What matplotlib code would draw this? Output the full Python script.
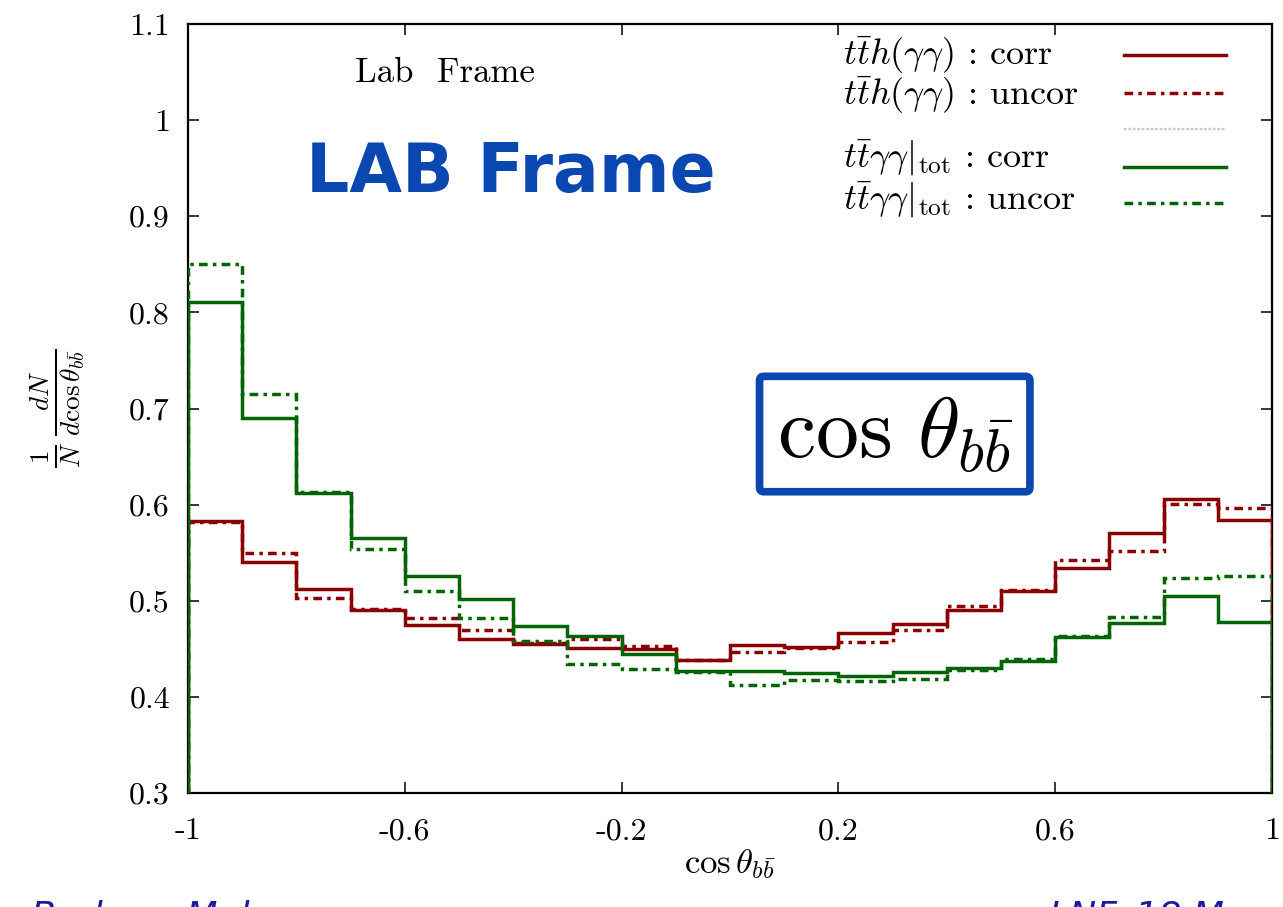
import numpy as np
import matplotlib
matplotlib.use('Agg')
import matplotlib.pyplot as plt
from matplotlib.lines import Line2D

plt.rcParams['mathtext.fontset'] = 'cm'
plt.rcParams['font.family'] = 'serif'
plt.rcParams['font.serif'] = ['cmr10', 'DejaVu Serif']
plt.rcParams['axes.unicode_minus'] = False

# 20 bins in cos(theta_bb), width 0.1
edges = np.linspace(-1.0, 1.0, 21)

tth_corr = [0.583, 0.540, 0.512, 0.490, 0.475, 0.460, 0.455, 0.451, 0.450, 0.438,
            0.454, 0.452, 0.466, 0.476, 0.490, 0.510, 0.534, 0.570, 0.606, 0.584]
tth_uncor = [0.582, 0.550, 0.503, 0.491, 0.482, 0.470, 0.456, 0.460, 0.453, 0.438,
             0.447, 0.451, 0.457, 0.470, 0.495, 0.511, 0.542, 0.552, 0.601, 0.597]
ttaa_corr = [0.811, 0.690, 0.612, 0.565, 0.526, 0.502, 0.474, 0.463, 0.445, 0.427,
             0.427, 0.425, 0.422, 0.426, 0.430, 0.437, 0.462, 0.477, 0.505, 0.478]
ttaa_uncor = [0.850, 0.715, 0.613, 0.554, 0.510, 0.482, 0.458, 0.434, 0.429, 0.426,
              0.412, 0.418, 0.416, 0.419, 0.428, 0.439, 0.463, 0.483, 0.524, 0.526]

xticks = [-1, -0.6, -0.2, 0.2, 0.6, 1]
xticklabels = ['-1', '-0.6', '-0.2', '0.2', '0.6', '1']
yticks = [0.3, 0.4, 0.5, 0.6, 0.7, 0.8, 0.9, 1.0, 1.1]
yticklabels = ['0.3', '0.4', '0.5', '0.6', '0.7', '0.8', '0.9', '1', '1.1']

RED = '#8b0000'
GREEN = '#006400'
BLUE = '#0a47b0'
DASHDOT = (0, (2.5, 1.5, 1, 1.5))

series = [
    (tth_corr, RED, '-', r'$t\bar{t}h(\gamma\gamma)$ : corr'),
    (tth_uncor, RED, DASHDOT, r'$t\bar{t}h(\gamma\gamma)$ : uncor'),
    (ttaa_corr, GREEN, '-', r'$t\bar{t}\gamma\gamma|_{\rm tot}$ : corr'),
    (ttaa_uncor, GREEN, DASHDOT, r'$t\bar{t}\gamma\gamma|_{\rm tot}$ : uncor'),
]

fig = plt.figure(figsize=(12.83, 9.07), dpi=100)
ax = fig.add_axes([0.1465, 0.1257, 0.8449, 0.8478])

for vals, color, ls, _ in series:
    ax.stairs(vals, edges, baseline=0, color=color, linestyle=ls, lw=2.5, zorder=3)

ax.set_xlim(-1, 1)
ax.set_ylim(0.3, 1.1)
ax.set_xticks(xticks)
ax.set_xticklabels(xticklabels)
ax.set_yticks(yticks)
ax.set_yticklabels(yticklabels)
ax.tick_params(direction='in', length=8, width=1.1, top=True, right=True,
               labelsize=23, pad=13)
ax.tick_params(axis='x', pad=18)
for sp in ax.spines.values():
    sp.set_linewidth(1.6)

ax.set_xlabel(r'$\cos\theta_{b\bar{b}}$', fontsize=25, labelpad=1)
ax.set_ylabel(r'$\frac{1}{N}\,\frac{dN}{d\cos\theta_{b\bar{b}}}$', fontsize=28,
              labelpad=30)

# hand-made legend, top right
legend_rows = [0.9597, 0.9107, 0.8632, 0.8144, 0.7676]
text_rows = [0.9597, 0.9077, None, 0.8258, 0.7711]
entries = [series[0], series[1], None, series[2], series[3]]
for ly, ty, ent in zip(legend_rows, text_rows, entries):
    if ent is None:
        ax.add_line(Line2D([0.8635, 0.9576], [ly, ly], transform=ax.transAxes,
                           color='#c8c8c8', lw=1.6, linestyle=(0, (1.2, 0.8))))
        continue
    _, color, ls, label = ent
    ax.add_line(Line2D([0.8635, 0.9576], [ly, ly], transform=ax.transAxes,
                       color=color, lw=2.5, linestyle=ls))
    ax.text(0.604, ty, label, transform=ax.transAxes, fontsize=26,
            ha='left', va='center')

ax.text(0.237, 0.9357, 'Lab  Frame', transform=ax.transAxes, fontsize=25,
        ha='center', va='center')
ax.text(0.298, 0.806, 'LAB Frame', transform=ax.transAxes, fontsize=49,
        fontweight='bold', color=BLUE, family='DejaVu Sans',
        ha='center', va='center')
ax.text(0.652, 0.4668, r'$\cos\,\theta_{b\bar{b}}$', transform=ax.transAxes,
        fontsize=62, ha='center', va='center', zorder=5,
        bbox=dict(boxstyle='round,pad=0.2,rounding_size=0.05', fc='white',
                  ec=BLUE, lw=5.5))

# slide footer, partly cut off at the bottom edge
fig.text(0.024, -0.022, 'Barbara Mele', fontsize=26, style='italic',
         color='#1a1aa0', family='DejaVu Sans', va='baseline', ha='left')
fig.text(0.818, -0.022, 'LNF, 18 March', fontsize=26, style='italic',
         color='#1a1aa0', family='DejaVu Sans', va='baseline', ha='left')

fig.savefig('out.png', dpi=100)
